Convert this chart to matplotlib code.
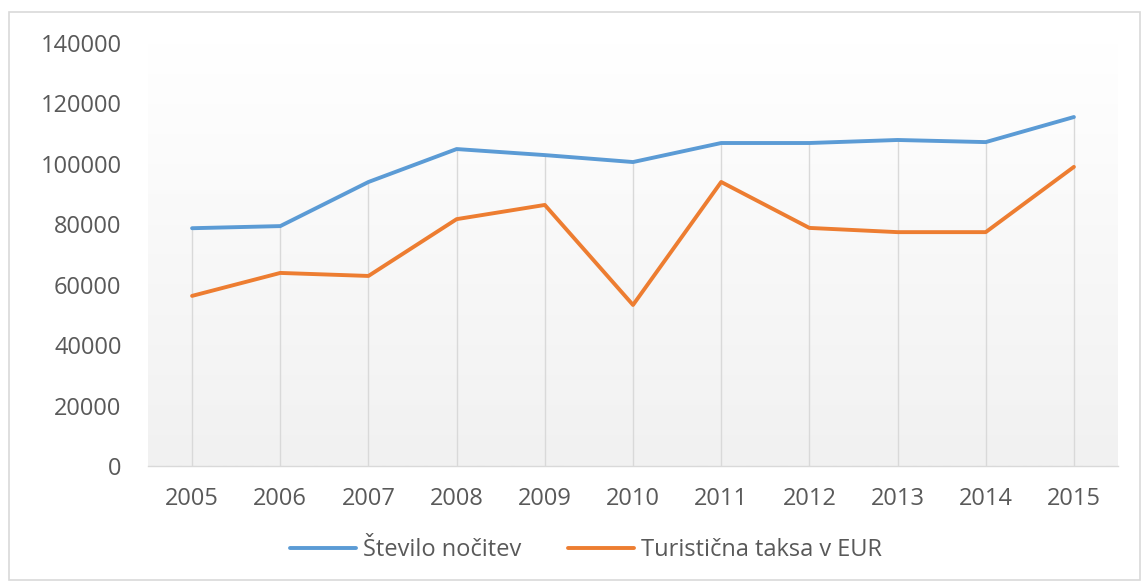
import matplotlib
matplotlib.use("Agg")
import matplotlib.pyplot as plt
import numpy as np
from matplotlib.patches import Rectangle
from matplotlib.colors import LinearSegmentedColormap

years = ["2005", "2006", "2007", "2008", "2009", "2010", "2011", "2012", "2013", "2014", "2015"]
nocitve = [78700, 79400, 94000, 104900, 102900, 100600, 106900, 106900, 107900, 107200, 115500]
taksa = [56300, 63900, 62900, 81700, 86400, 53300, 94000, 78800, 77400, 77400, 99000]
series_names = ["Število nočitev", "Turistična taksa v EUR"]
yticks = [0, 20000, 40000, 60000, 80000, 100000, 120000, 140000]

plt.rcParams['font.family'] = ['Open Sans', 'DejaVu Sans']
text_color = "#595959"
fs = 17

fig = plt.figure(figsize=(11.47, 5.83), dpi=100)
fig.patches.append(Rectangle((9/1147, 3/583), 1131/1147, 568/583, transform=fig.transFigure,
                             fill=False, edgecolor="#d9d9d9", linewidth=1.2))

ax = fig.add_axes([148/1147, 1-466/583, 970/1147, 423/583])
x = np.arange(len(years))

# gradient background (white at top, light gray at bottom)
cmap = LinearSegmentedColormap.from_list("g", ["#ffffff", "#f1f1f1"])
grad = np.linspace(0, 1, 256).reshape(-1, 1)
ax.imshow(grad, cmap=cmap, aspect="auto", origin="upper",
          extent=(-0.5, len(years)-0.5, 0, 140000), zorder=0)
ax.set_xlim(-0.5, len(years)-0.5)
ax.set_ylim(0, 140000)

# drop lines
tops = np.maximum(nocitve, taksa)
ax.vlines(x, 0, tops, color="#d9d9d9", linewidth=1.0, zorder=1)

l1, = ax.plot(x, nocitve, color="#5B9BD5", linewidth=2.8, solid_capstyle="round", zorder=3, label=series_names[0])
l2, = ax.plot(x, taksa, color="#ED7D31", linewidth=2.8, solid_capstyle="round", zorder=3, label=series_names[1])

for s in ["top", "right", "left"]:
    ax.spines[s].set_visible(False)
ax.spines["bottom"].set_color("#d9d9d9")
ax.spines["bottom"].set_linewidth(1.0)

ax.set_xticks(x)
ax.set_xticklabels(years)
ax.set_yticks(yticks)
ax.set_yticklabels([str(v) for v in yticks])
ax.tick_params(axis="both", length=0, labelsize=fs, colors=text_color)
ax.tick_params(axis="y", pad=19)
ax.tick_params(axis="x", pad=15)

fig.legend(handles=[l1, l2], labels=series_names, loc="center", bbox_to_anchor=(586/1147, 1-550/583),
           ncol=2, frameon=False, fontsize=fs, labelcolor=text_color, handlelength=2.8,
           columnspacing=2.0, handletextpad=0.3)

fig.savefig("out.png", dpi=100)
